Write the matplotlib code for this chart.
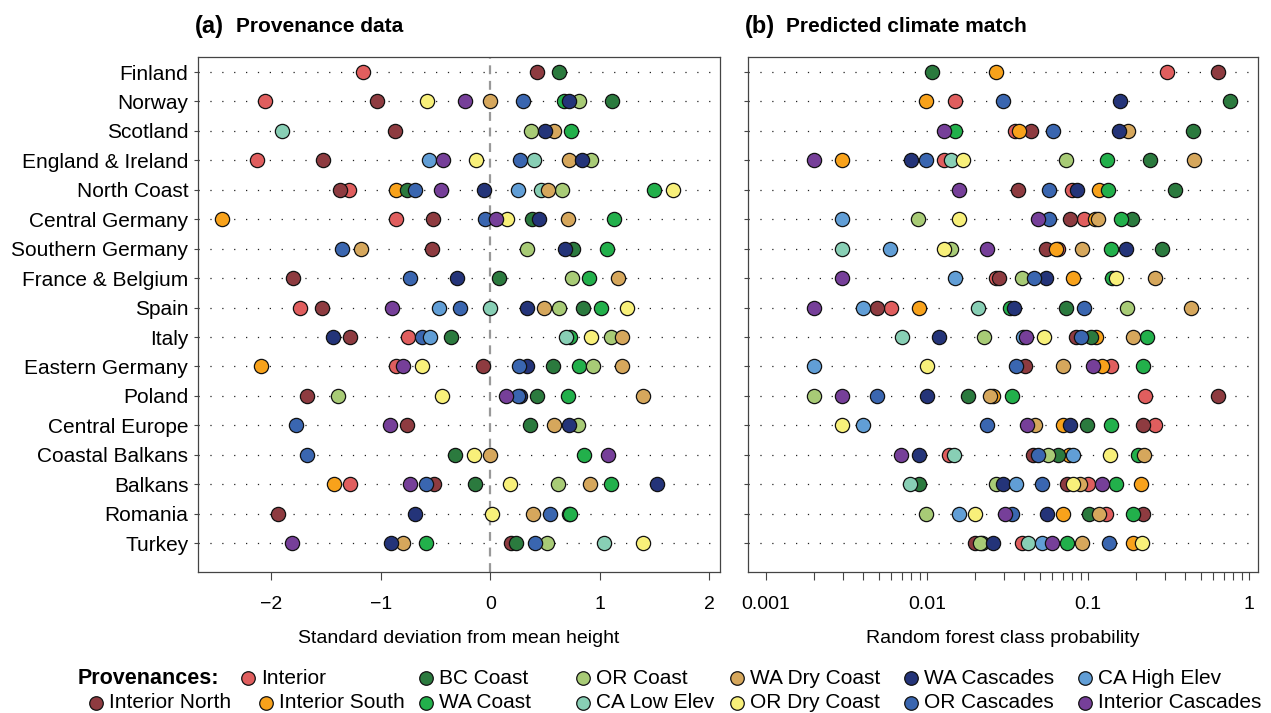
import numpy as np
import matplotlib.pyplot as plt
from matplotlib.ticker import FixedLocator, NullFormatter

plt.rcParams['font.family'] = ['Liberation Sans', 'DejaVu Sans']

nan = np.nan

regions = ['Finland', 'Norway', 'Scotland', 'England & Ireland', 'North Coast',
           'Central Germany', 'Southern Germany', 'France & Belgium', 'Spain',
           'Italy', 'Eastern Germany', 'Poland', 'Central Europe',
           'Coastal Balkans', 'Balkans', 'Romania', 'Turkey']

provenances = ['Interior', 'Interior North', 'Interior South', 'BC Coast',
               'WA Coast', 'OR Coast', 'CA Low Elev', 'WA Dry Coast',
               'OR Dry Coast', 'WA Cascades', 'OR Cascades', 'CA High Elev',
               'Interior Cascades']

colors = ['#E05E5E', '#8E3B40', '#F8A21B', '#2B7A3E', '#22B04B', '#A8CB76',
          '#88CFB5', '#D6A75C', '#F8F07A', '#243479', '#3A66B0', '#619ED6',
          '#763F99']

# (a) standard deviation from mean height, one value per region (nan = not shown)
sd_interior          = [-1.16, -2.06, nan, -2.13, -1.29, -0.86, nan, nan, -1.74, -0.75, -0.86, nan, nan, nan, -1.28, nan, nan]
sd_interior_north    = [0.43, -1.03, -0.87, -1.53, -1.37, -0.52, -0.53, -1.80, -1.54, -1.28, -0.07, -1.67, -0.76, nan, -0.51, -1.94, 0.19]
sd_interior_south    = [nan, nan, nan, nan, -0.86, -2.45, nan, nan, nan, nan, -2.09, nan, nan, nan, -1.43, nan, nan]
sd_bc_coast          = [0.63, 1.11, nan, nan, -0.76, 0.38, 0.76, 0.08, 0.85, -0.36, 0.57, 0.43, 0.36, -0.32, -0.14, 0.72, 0.24]
sd_wa_coast          = [nan, 0.67, 0.74, nan, 1.50, 1.13, 1.07, 0.90, 1.01, 0.73, 0.81, 0.71, nan, 0.86, 1.10, 0.73, -0.59]
sd_or_coast          = [nan, 0.81, 0.37, 0.92, 0.66, nan, 0.34, 0.75, 0.63, 1.10, 0.94, -1.39, 0.80, nan, 0.62, nan, 0.52]
sd_ca_low_elev       = [nan, nan, -1.90, 0.40, 0.46, nan, nan, nan, 0.00, 0.69, nan, nan, nan, nan, nan, nan, 1.04]
sd_wa_dry_coast      = [nan, 0.00, 0.58, 0.72, 0.53, 0.71, -1.18, 1.17, 0.49, 1.20, 1.20, 1.40, 0.58, 0.00, 0.91, 0.39, -0.80]
sd_or_dry_coast      = [nan, -0.58, nan, -0.13, 1.67, 0.15, nan, nan, 1.25, 0.92, -0.62, -0.44, nan, -0.15, 0.18, 0.02, 1.40]
sd_wa_cascades       = [nan, 0.72, 0.50, 0.84, -0.06, 0.45, 0.68, -0.30, 0.34, -1.44, 0.34, 0.27, 0.72, nan, 1.52, -0.69, -0.91]
sd_or_cascades       = [nan, 0.30, nan, 0.27, -0.69, -0.05, -1.35, -0.73, -0.28, -0.62, 0.26, 0.25, -1.77, -1.67, -0.59, 0.55, 0.41]
sd_ca_high_elev      = [nan, nan, nan, -0.56, 0.25, nan, nan, nan, -0.47, -0.55, nan, nan, nan, nan, nan, nan, nan]
sd_interior_cascades = [nan, -0.23, nan, -0.43, -0.45, 0.05, nan, nan, -0.90, nan, -0.80, 0.14, -0.92, 1.08, -0.73, nan, -1.81]

# (b) random forest class probability
rf_interior          = [0.31, 0.0149, 0.035, 0.0127, 0.079, 0.095, 0.065, 0.027, 0.0060, nan, 0.138, 0.226, 0.26, 0.0137, 0.100, 0.130, 0.039]
rf_interior_north    = [0.64, nan, 0.044, nan, 0.0365, 0.077, 0.055, 0.028, 0.0049, 0.084, 0.0406, 0.64, 0.219, 0.0457, 0.0743, 0.219, 0.0199]
rf_interior_south    = [0.0267, 0.0099, 0.0374, 0.00295, 0.1175, 0.110, 0.063, 0.081, 0.0089, 0.112, 0.122, 0.0256, 0.070, 0.0757, 0.212, 0.070, 0.190]
rf_bc_coast          = [0.0108, 0.76, 0.45, 0.244, 0.347, 0.187, 0.287, nan, 0.073, 0.104, nan, 0.0179, 0.098, 0.065, 0.0089, 0.101, 0.022]
rf_wa_coast          = [nan, nan, 0.0149, 0.131, 0.1325, 0.160, 0.139, 0.141, 0.033, 0.234, 0.221, 0.0336, 0.139, 0.203, 0.149, 0.191, 0.074]
rf_or_coast          = [nan, nan, nan, 0.073, nan, 0.0088, 0.0141, 0.039, 0.175, 0.0227, nan, 0.0020, nan, 0.0568, 0.0267, 0.0099, 0.0213]
rf_ca_low_elev       = [nan, nan, nan, 0.0140, nan, nan, 0.00295, nan, 0.0208, 0.0070, nan, nan, nan, 0.0148, 0.0078, nan, 0.0426]
rf_wa_dry_coast      = [nan, nan, 0.178, 0.457, nan, 0.116, 0.092, 0.26, 0.436, 0.191, 0.070, 0.0246, 0.047, 0.224, 0.089, 0.1175, 0.092]
rf_or_dry_coast      = [nan, nan, nan, 0.0168, nan, 0.0159, 0.0128, 0.149, nan, 0.053, 0.00995, nan, 0.00295, 0.137, 0.081, 0.0199, 0.215]
rf_wa_cascades       = [nan, 0.158, 0.156, 0.0079, 0.086, nan, 0.171, 0.0546, 0.0345, 0.0119, nan, 0.00995, 0.077, 0.0089, 0.0295, 0.0553, 0.0256]
rf_or_cascades       = [nan, 0.0295, 0.061, 0.0099, 0.057, 0.057, nan, 0.046, 0.094, 0.091, 0.0356, 0.0049, 0.0237, 0.049, 0.0516, 0.0336, 0.1355]
rf_ca_high_elev      = [nan, nan, nan, nan, nan, 0.00295, 0.0059, 0.0149, 0.0040, 0.0396, 0.0020, nan, 0.0040, 0.081, 0.0357, 0.0159, 0.0516]
rf_interior_cascades = [nan, nan, 0.0128, 0.0020, 0.0159, 0.049, 0.0237, 0.00295, 0.0020, 0.041, 0.107, 0.00295, 0.0416, 0.0069, 0.123, 0.0305, 0.060]

sd_data = [sd_interior, sd_interior_north, sd_interior_south, sd_bc_coast,
           sd_wa_coast, sd_or_coast, sd_ca_low_elev, sd_wa_dry_coast,
           sd_or_dry_coast, sd_wa_cascades, sd_or_cascades, sd_ca_high_elev,
           sd_interior_cascades]
rf_data = [rf_interior, rf_interior_north, rf_interior_south, rf_bc_coast,
           rf_wa_coast, rf_or_coast, rf_ca_low_elev, rf_wa_dry_coast,
           rf_or_dry_coast, rf_wa_cascades, rf_or_cascades, rf_ca_high_elev,
           rf_interior_cascades]

W, H = 1271, 713
fig = plt.figure(figsize=(W / 100, H / 100), dpi=100)
ax1 = fig.add_axes([198 / W, 141 / H, 522 / W, 515 / H])
ax2 = fig.add_axes([748 / W, 141 / H, 510 / W, 515 / H])

ypos = np.arange(len(regions))

for ax, data in [(ax1, sd_data), (ax2, rf_data)]:
    for y in ypos:
        ax.axhline(y, color='#222222', lw=0.9, dashes=(1, 8.5), zorder=1)
    for vals, col in zip(data, colors):
        ax.scatter(vals, ypos, s=105, color=col, edgecolor='#111111',
                   linewidth=0.9, zorder=3)
    ax.set_ylim(len(regions) - 0.02, -0.51)
    ax.set_yticks(ypos)
    for sp in ax.spines.values():
        sp.set_color('#444444')
        sp.set_linewidth(0.9)
    ax.tick_params(axis='y', length=3, width=0.8, pad=4, labelsize=15,
                   color='#444444')
    ax.tick_params(axis='x', which='both', length=5.5, width=0.8, pad=12,
                   labelsize=14, color='#444444')

ax1.set_yticklabels(regions)
ax2.set_yticklabels([])
ax1.axvline(0, color='#999999', lw=1.6, dashes=(4, 3), zorder=2)
ax1.set_xlim(-2.67, 2.10)
ax1.set_xticks([-2, -1, 0, 1, 2])
ax1.set_xticklabels(['\u22122', '\u22121', '0', '1', '2'])

ax2.set_xscale('log')
ax2.set_xlim(10 ** -3.112, 10 ** 0.056)
ax2.xaxis.set_major_locator(FixedLocator([0.001, 0.01, 0.1, 1]))
ax2.set_xticklabels(['0.001', '0.01', '0.1', '1'])
minor = [m * 10.0 ** e for e in (-3, -2, -1) for m in range(2, 10)]
ax2.xaxis.set_minor_locator(FixedLocator(minor))
ax2.xaxis.set_minor_formatter(NullFormatter())

ax1.set_xlabel('Standard deviation from mean height', fontsize=14)
ax2.set_xlabel('Random forest class probability', fontsize=14)
for ax in (ax1, ax2):
    ax.xaxis.set_label_coords(0.5, -0.113)

fig.text(195 / W, 1 - 27 / H, '(a)', fontsize=17, fontweight='bold', va='center')
fig.text(236 / W, 1 - 27 / H, 'Provenance data', fontsize=15, fontweight='bold', va='center')
fig.text(745 / W, 1 - 27 / H, '(b)', fontsize=17, fontweight='bold', va='center')
fig.text(786 / W, 1 - 27 / H, 'Predicted climate match', fontsize=15, fontweight='bold', va='center')

# legend, placed by hand in pixel space
lax = fig.add_axes([0, 0, 1, 1])
lax.set_xlim(0, W)
lax.set_ylim(H, 0)
lax.axis('off')
lax.text(78, 678, 'Provenances:', fontsize=15.5, fontweight='bold', va='center')
leg_x = [248, 96, 266, 426, 426, 583, 583, 737, 737, 911, 911, 1085, 1085]
leg_y = [678, 703, 703, 678, 703, 678, 703, 678, 703, 678, 703, 678, 703]
for name, col, lx, ly in zip(provenances, colors, leg_x, leg_y):
    lax.scatter([lx], [ly], s=95, color=col, edgecolor='#111111', linewidth=0.9)
    lax.text(lx + 13, ly, name, fontsize=15, va='center')

fig.savefig('out.png', dpi=100)
